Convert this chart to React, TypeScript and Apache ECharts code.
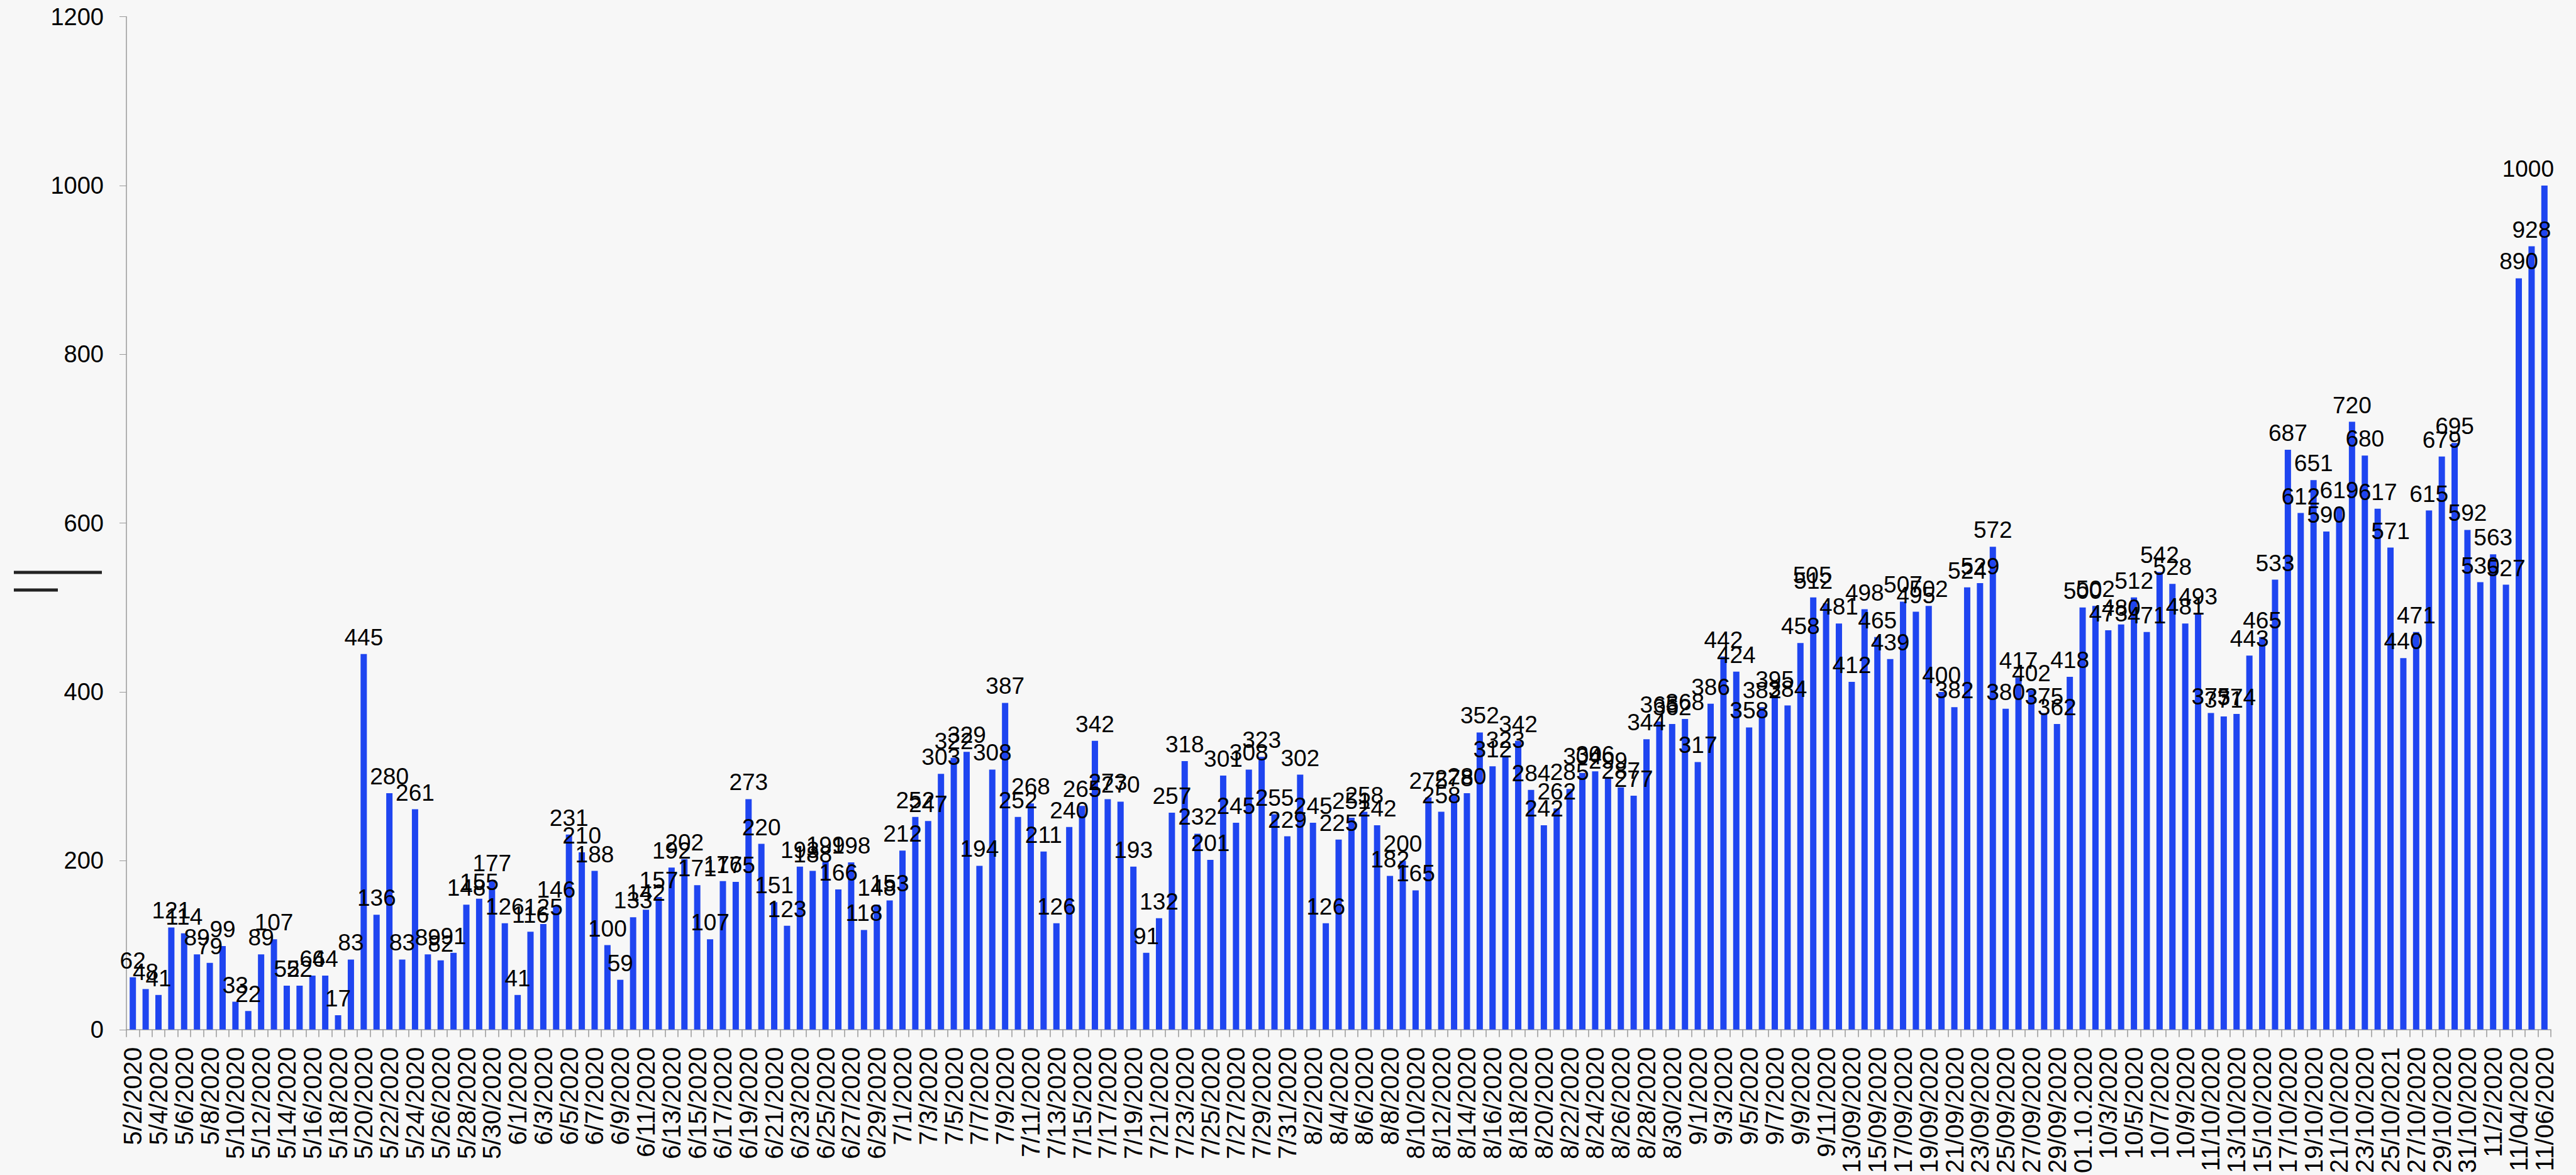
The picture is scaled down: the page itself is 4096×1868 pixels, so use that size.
import React, { useEffect, useRef } from "react";
import * as echarts from "echarts";

const categories: string[] = (
  "5/2/2020 5/3/2020 5/4/2020 5/5/2020 5/6/2020 5/7/2020 5/8/2020 5/9/2020 5/10/2020 5/11/2020 5/12/2020 5/13/2020 5/14/2020 5/15/2020 5/16/2020 5/17/2020 5/18/2020 5/19/2020 5/20/2020 5/21/2020 5/22/2020 5/23/2020 5/24/2020 5/25/2020 5/26/2020 5/27/2020 5/28/2020 5/29/2020 5/30/2020 5/31/2020 " +
  "6/1/2020 6/2/2020 6/3/2020 6/4/2020 6/5/2020 6/6/2020 6/7/2020 6/8/2020 6/9/2020 6/10/2020 6/11/2020 6/12/2020 6/13/2020 6/14/2020 6/15/2020 6/16/2020 6/17/2020 6/18/2020 6/19/2020 6/20/2020 6/21/2020 6/22/2020 6/23/2020 6/24/2020 6/25/2020 6/26/2020 6/27/2020 6/28/2020 6/29/2020 6/30/2020 " +
  "7/1/2020 7/2/2020 7/3/2020 7/4/2020 7/5/2020 7/6/2020 7/7/2020 7/8/2020 7/9/2020 7/10/2020 7/11/2020 7/12/2020 7/13/2020 7/14/2020 7/15/2020 7/16/2020 7/17/2020 7/18/2020 7/19/2020 7/20/2020 7/21/2020 7/22/2020 7/23/2020 7/24/2020 7/25/2020 7/26/2020 7/27/2020 7/28/2020 7/29/2020 7/30/2020 7/31/2020 " +
  "8/1/2020 8/2/2020 8/3/2020 8/4/2020 8/5/2020 8/6/2020 8/7/2020 8/8/2020 8/9/2020 8/10/2020 8/11/2020 8/12/2020 8/13/2020 8/14/2020 8/15/2020 8/16/2020 8/17/2020 8/18/2020 8/19/2020 8/20/2020 8/21/2020 8/22/2020 8/23/2020 8/24/2020 8/25/2020 8/26/2020 8/27/2020 8/28/2020 8/29/2020 8/30/2020 8/31/2020 " +
  "9/1/2020 9/2/2020 9/3/2020 9/4/2020 9/5/2020 9/6/2020 9/7/2020 9/8/2020 9/9/2020 9/10/2020 9/11/2020 9/12/2020 13/09/2020 14/09/2020 15/09/2020 16/09/2020 17/09/2020 18/09/2020 19/09/2020 20/09/2020 21/09/2020 22/09/2020 23/09/2020 24/09/2020 25/09/2020 26/09/2020 27/09/2020 28/09/2020 29/09/2020 30/09/2020 " +
  "01.10.2020 02.10.2020 10/3/2020 10/4/2020 10/5/2020 10/6/2020 10/7/2020 10/8/2020 10/9/2020 10/10/2020 11/10/2020 12/10/2020 13/10/2020 14/10/2020 15/10/2020 16/10/2020 17/10/2020 18/10/2020 19/10/2020 20/10/2020 21/10/2020 22/10/2020 23/10/2020 24/10/2020 25/10/2021 26/10/2020 27/10/2020 28/10/2020 29/10/2020 30/10/2020 31/10/2020 " +
  "11/1/2020 11/2/2020 11/3/2020 11/04/2020 11/05/2020 11/06/2020"
).split(" ");

const mayValues = [62, 48, 41, 121, 114, 89, 79, 99, 33, 22, 89, 107, 52, 52, 64, 64, 17, 83, 445, 136, 280, 83, 261, 89, 82, 91, 148, 155, 177, 126];
const juneValues = [41, 116, 125, 146, 231, 210, 188, 100, 59, 133, 142, 157, 192, 202, 171, 107, 176, 175, 273, 220, 151, 123, 193, 188, 199, 166, 198, 118, 148, 153];
const julyValues = [212, 252, 247, 303, 322, 329, 194, 308, 387, 252, 268, 211, 126, 240, 265, 342, 273, 270, 193, 91, 132, 257, 318, 232, 201, 301, 245, 308, 323, 255, 229];
const augustValues = [302, 245, 126, 225, 251, 258, 242, 182, 200, 165, 275, 258, 278, 280, 352, 312, 323, 342, 284, 242, 262, 285, 304, 306, 299, 287, 277, 344, 365, 362, 368];
const septemberValues = [317, 386, 442, 424, 358, 382, 395, 384, 458, 512, 505, 481, 412, 498, 465, 439, 507, 495, 502, 400, 382, 524, 529, 572, 380, 417, 402, 375, 362, 418];
const octoberValues = [500, 502, 473, 480, 512, 471, 542, 528, 481, 493, 375, 371, 374, 443, 465, 533, 687, 612, 651, 590, 619, 720, 680, 617, 571, 440, 471, 615, 679, 695, 592];
const novemberValues = [530, 563, 527, 890, 928, 1000];

const values = [
  ...mayValues,
  ...juneValues,
  ...julyValues,
  ...augustValues,
  ...septemberValues,
  ...octoberValues,
  ...novemberValues,
];

// labels that sit off-centre in the reference
const labelShifts: Record<string, [number, number]> = {
  "9/11/2020": [-22, -18],
  "11/06/2020": [-26, 0],
};

const yMin = 0;
const yMax = 1200;
const yInterval = 200;

const FONT = "'Liberation Sans', Arial, Helvetica, sans-serif";

export default function App() {
  const ref = useRef<HTMLDivElement>(null);

  useEffect(() => {
    document.body.style.margin = "0";
    document.body.style.background = "#F7F7F7";
    const chart = echarts.init(ref.current!, null, { renderer: "svg" });
    const seriesData = values.map((v, i) => {
      const shift = labelShifts[categories[i]];
      return shift ? { value: v, label: { offset: shift } } : v;
    });
    chart.setOption({
      animation: false,
      backgroundColor: "#F7F7F7",
      textStyle: { fontFamily: FONT },
      grid: { left: 201, right: 40, top: 26.5, bottom: 229.7, containLabel: false },
      xAxis: {
        type: "category",
        data: categories,
        boundaryGap: true,
        axisLine: { show: true, lineStyle: { color: "#9a9a9a", width: 1.5 } },
        axisTick: { show: true, interval: 0, length: 12, lineStyle: { color: "#9a9a9a", width: 1.5 } },
        axisLabel: {
          interval: 1,
          rotate: 90,
          fontSize: 40,
          color: "#000",
          margin: 28,
          fontFamily: FONT,
        },
        splitLine: { show: false },
      },
      yAxis: {
        type: "value",
        min: yMin,
        max: yMax,
        interval: yInterval,
        axisLine: { show: true, lineStyle: { color: "#9a9a9a", width: 1.5 } },
        axisTick: { show: true, length: 11, lineStyle: { color: "#9a9a9a", width: 1 } },
        axisLabel: {
          fontSize: 38,
          color: "#000",
          margin: 36,
          fontFamily: FONT,
          formatter: (v: number) => String(v),
        },
        splitLine: { show: false },
      },
      graphic: [
        { type: "line", shape: { x1: 22, y1: 910, x2: 162, y2: 910 }, style: { stroke: "#222", lineWidth: 5 } },
        { type: "line", shape: { x1: 22, y1: 938, x2: 92, y2: 938 }, style: { stroke: "#222", lineWidth: 5 } },
      ],
      series: [
        {
          type: "bar",
          data: seriesData,
          barWidth: 10,
          itemStyle: { color: "#1F45F0" },
          label: {
            show: true,
            position: "top",
            distance: 8,
            fontSize: 37,
            color: "#000",
            fontFamily: FONT,
          },
        },
      ],
    });
    return () => chart.dispose();
  }, []);

  return <div ref={ref} style={{ width: 4096, height: 1868 }} />;
}
